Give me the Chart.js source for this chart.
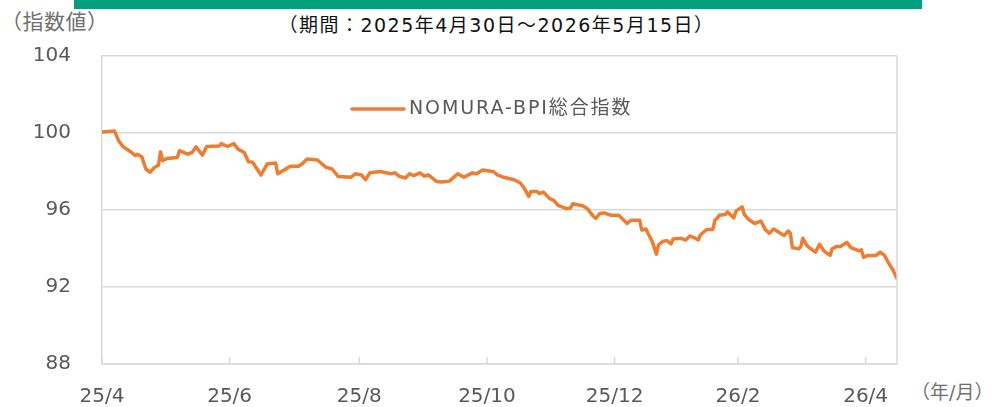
<!DOCTYPE html>
<html>
<head>
<meta charset="utf-8">
<script src="https://cdn.jsdelivr.net/npm/chart.js@4"></script>
<style>
  html, body { margin: 0; padding: 0; background: #fff; }
  #wrap { position: relative; width: 993px; height: 407px; overflow: hidden;
          font-family: "DejaVu Sans", "Noto Sans CJK JP", sans-serif; }
  #bar { position: absolute; left: 74px; top: 0; width: 848px; height: 9px; background: #00A07F; }
  #title { position: absolute; left: 0; width: 993px; top: 13px; text-align: center; white-space: nowrap;
           font-size: 19px; letter-spacing: 1.5px; color: #111; line-height: 24px; }
  #yunit { position: absolute; left: 1px; top: 10px; font-size: 21px; letter-spacing: 0.5px; color: #707070; line-height: 24px; white-space: nowrap; }
  #xunit { position: absolute; left: 911px; top: 380px; font-size: 19px; color: #707070; line-height: 24px; white-space: nowrap; }
  canvas { position: absolute; left: 0; top: 0; }
</style>
</head>
<body>
<div id="wrap">
  <div id="bar"></div>
  <div id="title">（期間：2025年4月30日～2026年5月15日）</div>
  <div id="yunit">（指数値）</div>
  <div id="xunit">（年/月）</div>
  <canvas id="c" width="993" height="407"></canvas>
</div>
<script>
// ---- Data (days since 2025-04-30, index value) ----
const seriesName = "NOMURA-BPI総合指数";
const days = [0,6,8,10,13,16,17,19,21,23,25,27,28,29,31,36,37,41,43,45,48,50,56,57,60,63,65,68,70,72,76,79,83,84,90,94,96,98,103,107,110,113,119,121,124,126,128,133,138,140,142,145,147,149,152,154,156,160,162,166,170,173,177,179,182,186,187,189,192,197,200,202,204,205,208,209,211,214,216,218,222,224,225,230,232,235,236,238,240,243,247,251,253,257,258,260,261,263,265,266,268,270,272,273,277,279,281,283,285,286,289,292,293,294,295,298,299,302,303,306,307,309,312,315,317,319,321,323,326,328,329,330,333,334,335,337,338,341,343,345,348,349,351,353,356,358,362,363,364,366,370,372,374,376,378,380];
const values = [100.05,100.1,99.59,99.30,99.08,98.82,98.90,98.77,98.13,97.96,98.20,98.34,99.02,98.56,98.68,98.73,99.08,98.90,98.99,99.28,98.85,99.30,99.33,99.45,99.30,99.45,99.16,98.99,98.51,98.48,97.82,98.39,98.44,97.88,98.27,98.27,98.43,98.65,98.60,98.22,98.13,97.74,97.70,97.88,97.82,97.58,97.93,98.00,97.88,97.93,97.76,97.66,97.88,97.79,97.93,97.76,97.82,97.48,97.45,97.50,97.88,97.70,97.93,97.88,98.08,98.01,98.00,97.82,97.70,97.57,97.40,97.10,96.71,96.96,96.96,96.85,96.93,96.59,96.50,96.24,96.07,96.11,96.33,96.21,96.07,95.65,95.56,95.82,95.85,95.73,95.73,95.30,95.47,95.47,94.96,95.01,94.79,94.36,93.71,94.19,94.36,94.41,94.24,94.50,94.53,94.44,94.65,94.57,94.44,94.70,94.99,94.99,95.47,95.56,95.73,95.77,95.90,95.59,95.94,96.16,95.77,95.52,95.30,95.42,94.99,94.79,95.01,94.88,94.67,94.91,94.79,94.05,93.98,94.10,94.53,94.15,94.05,93.81,94.22,93.88,93.64,93.98,94.10,94.10,94.32,94.05,93.88,93.93,93.54,93.64,93.64,93.81,93.64,93.24,92.90,92.44];
const tickDays = [0,61,123,184,245,304,365];
const tickLabels = ["25/4","25/6","25/8","25/10","25/12","26/2","26/4"];
const yTicks = [88,92,96,100,104];

const FONT = '"DejaVu Sans", "Noto Sans CJK JP", sans-serif';
const GRID = '#d9d9d9';
const LINE = '#ED7D31';

const frame = {
  id: 'frame',
  afterDraw(chart) {
    const {ctx, chartArea: a, scales: {x}} = chart;
    ctx.save();
    ctx.strokeStyle = GRID; ctx.lineWidth = 1.5;
    ctx.beginPath(); ctx.moveTo(a.right, a.top); ctx.lineTo(a.right, a.bottom); ctx.stroke();
    x.ticks.forEach(t => {
      const px = x.getPixelForValue(t.value);
      ctx.beginPath(); ctx.moveTo(px, a.bottom); ctx.lineTo(px, a.bottom - 7); ctx.stroke();
    });
    // legend
    const ds = chart.data.datasets[0];
    const lx = a.left + 250, ly = a.top + 53;
    ctx.strokeStyle = ds.borderColor; ctx.lineWidth = 3.5; ctx.lineCap = 'round';
    ctx.beginPath(); ctx.moveTo(lx, ly); ctx.lineTo(lx + 52, ly); ctx.stroke();
    ctx.fillStyle = '#595959';
    ctx.font = '19px ' + FONT;
    ctx.textBaseline = 'middle';
    ctx.letterSpacing = '1.9px';
    ctx.fillText(ds.label, lx + 57, ly);
    ctx.restore();
  }
};

new Chart(document.getElementById('c'), {
  type: 'line',
  data: {
    datasets: [{
      label: seriesName,
      data: days.map((d, i) => ({x: d, y: values[i]})),
      borderColor: LINE,
      borderWidth: 3.5,
      borderJoinStyle: 'round',
      borderCapStyle: 'round',
      pointRadius: 0,
      tension: 0,
      fill: false
    }]
  },
  options: {
    responsive: false,
    animation: false,
    layout: { padding: { top: 56, right: 96, left: 0, bottom: 0 } },
    plugins: { legend: { display: false }, tooltip: { enabled: false } },
    scales: {
      x: {
        type: 'linear', min: 0, max: 380,
        afterBuildTicks(s) { s.ticks = tickDays.map(v => ({ value: v })); },
        afterFit(s) { s.height = 40; },
        grid: { display: false, drawTicks: false },
        border: { display: true, color: GRID, width: 1.5 },
        ticks: {
          autoSkip: false, maxRotation: 0, padding: 21,
          color: '#595959', font: { size: 20, family: FONT },
          callback: (v, i) => tickLabels[i]
        }
      },
      y: {
        min: 88, max: 104,
        afterBuildTicks(s) { s.ticks = yTicks.map(v => ({ value: v })); },
        afterFit(s) { s.width = 102; },
        grid: { color: GRID, lineWidth: 1.5, drawTicks: false },
        border: { display: true, color: GRID, width: 1.5 },
        ticks: { padding: 31, color: '#595959', font: { size: 20, family: FONT } }
      }
    }
  },
  plugins: [frame]
});
</script>
</body>
</html>
